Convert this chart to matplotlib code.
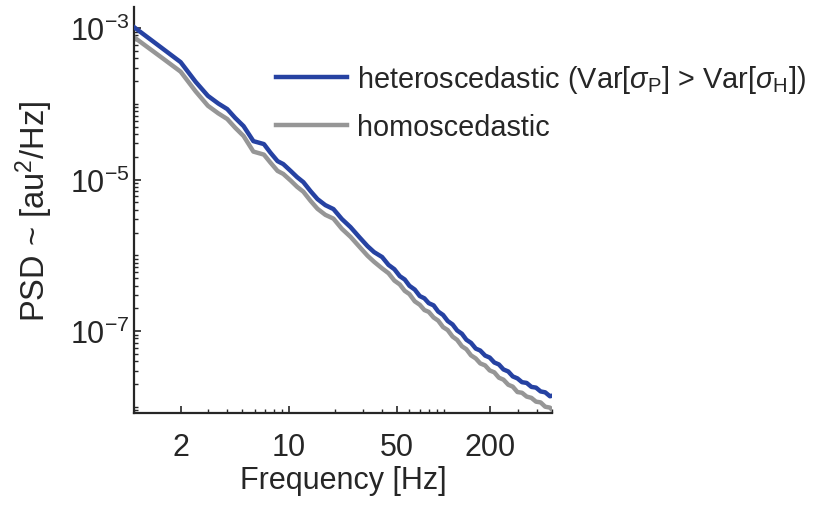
import numpy as np
import matplotlib
matplotlib.use('Agg')
import matplotlib.pyplot as plt
from matplotlib.ticker import FixedLocator, FixedFormatter, NullFormatter

plt.rcParams['font.family'] = ['Liberation Sans', 'DejaVu Sans']
plt.rcParams['mathtext.fontset'] = 'custom'
plt.rcParams['mathtext.rm'] = 'Liberation Sans'
plt.rcParams['mathtext.it'] = 'Liberation Sans:italic'
plt.rcParams['mathtext.cal'] = 'Liberation Sans'

# frequencies [Hz]
freq = [1.0, 1.5, 2.0, 2.5, 3.0, 3.5, 4.0, 4.5, 5.1, 5.9, 6.9, 7.6, 8.45, 9.2,
        10.3, 11.3, 12.4, 13.8, 15.3, 17.2, 19.4, 22, 25, 28.5, 32.2, 35.5,
        40, 44, 48, 52, 56, 60, 65, 70, 75, 80, 86, 92, 99, 106, 114, 122,
        131, 140, 150, 161, 172, 185, 198, 212, 227, 243, 261, 279, 299, 320,
        343, 368, 394, 422, 452, 485, 500]

# log10 PSD, heteroscedastic (blue)
hetero_log = [-2.987, -3.257, -3.449, -3.709, -3.894, -3.995, -4.069, -4.185,
              -4.294, -4.492, -4.531, -4.644, -4.756, -4.795, -4.888, -4.967,
              -5.033, -5.152, -5.257, -5.337, -5.389, -5.521, -5.627, -5.759,
              -5.878, -5.957,
              -6.022, -6.126, -6.183, -6.274, -6.319, -6.401, -6.452, -6.537,
              -6.567, -6.631, -6.660, -6.741, -6.787, -6.866, -6.912, -6.991,
              -7.035, -7.114, -7.155, -7.231, -7.256, -7.323, -7.349, -7.414,
              -7.440, -7.506, -7.533, -7.598, -7.624, -7.674, -7.684, -7.736,
              -7.746, -7.796, -7.808, -7.860, -7.853]

# log10 PSD, homoscedastic (grey)
homo_log = [-3.120, -3.385, -3.575, -3.835, -4.025, -4.125, -4.200, -4.315,
            -4.425, -4.630, -4.670, -4.775, -4.885, -4.925, -5.015, -5.095,
            -5.160, -5.280, -5.385, -5.465, -5.515, -5.650, -5.755, -5.885,
            -6.005, -6.085,
            -6.172, -6.236, -6.333, -6.384, -6.469, -6.511, -6.607, -6.652,
            -6.722, -6.746, -6.820, -6.861, -6.947, -6.986, -7.072, -7.116,
            -7.200, -7.239, -7.320, -7.361, -7.426, -7.453, -7.519, -7.544,
            -7.615, -7.641, -7.708, -7.733, -7.804, -7.814, -7.864, -7.881,
            -7.931, -7.941, -7.998, -8.010, -8.038]

x_ticks = [2, 10, 50, 200]
x_labels = ['2', '10', '50', '200']
y_ticks = [1e-7, 1e-5, 1e-3]
y_labels = ['$10^{-7}$', '$10^{-5}$', '$10^{-3}$']

text_col = '#262626'
blue = '#2642a2'
grey = '#969696'

fig = plt.figure(figsize=(8.18, 5.06), dpi=100)
ax = fig.add_axes([134 / 818, 92 / 506, 418 / 818, 406 / 506])

f = np.array(freq)
l_homo, = ax.plot(f, np.power(10.0, homo_log), color=grey, lw=3.2,
                  label='homoscedastic', zorder=2)
l_het, = ax.plot(f, np.power(10.0, hetero_log), color=blue, lw=3.2,
                 label=r'heteroscedastic (Var[$\sigma_{\mathrm{P}}$] > Var[$\sigma_{\mathrm{H}}$])',
                 zorder=3)

ax.set_xscale('log')
ax.set_yscale('log')
ax.set_xlim(1.0, 500)
ax.set_ylim(8.3e-9, 1.9e-3)

ax.xaxis.set_major_locator(FixedLocator(x_ticks))
ax.xaxis.set_major_formatter(FixedFormatter(x_labels))
minor_x = [d * m for d in (1, 10, 100) for m in range(1, 10)]
minor_x = [v for v in minor_x if v not in x_ticks and v <= 500]
ax.xaxis.set_minor_locator(FixedLocator(minor_x))
ax.xaxis.set_minor_formatter(NullFormatter())

ax.yaxis.set_major_locator(FixedLocator(y_ticks))
ax.yaxis.set_major_formatter(FixedFormatter(y_labels))
minor_y = [m * 10.0 ** e for e in range(-9, -2) for m in range(2, 10)]
minor_y += [1e-8, 1e-6, 1e-4]
ax.yaxis.set_minor_locator(FixedLocator(minor_y))
ax.yaxis.set_minor_formatter(NullFormatter())

for s in ('top', 'right'):
    ax.spines[s].set_visible(False)
for s in ('left', 'bottom'):
    ax.spines[s].set_linewidth(1.6)
    ax.spines[s].set_color(text_col)

ax.tick_params(axis='both', which='both', direction='in', colors=text_col)
ax.tick_params(axis='both', which='major', length=5, width=1.2)
ax.tick_params(axis='both', which='minor', length=3, width=1.0)
ax.tick_params(axis='x', which='major', labelsize=22, pad=14)
ax.tick_params(axis='y', which='major', labelsize=22, pad=3)

ax.set_xlabel('Frequency [Hz]', fontsize=22, color=text_col, labelpad=2)
ax.set_ylabel('PSD ~ [au$^2$/Hz]', fontsize=23.5, color=text_col, labelpad=11)

leg = fig.legend(handles=[l_het, l_homo], loc='upper left',
                 bbox_to_anchor=(262 / 818, 1 - 50 / 506),
                 bbox_transform=fig.transFigure, frameon=False,
                 fontsize=20.8, handlelength=2.45, handletextpad=0.35,
                 labelspacing=0.62, borderpad=0)
for t in leg.get_texts():
    t.set_color(text_col)

fig.savefig('out.png', dpi=100, facecolor='white')
